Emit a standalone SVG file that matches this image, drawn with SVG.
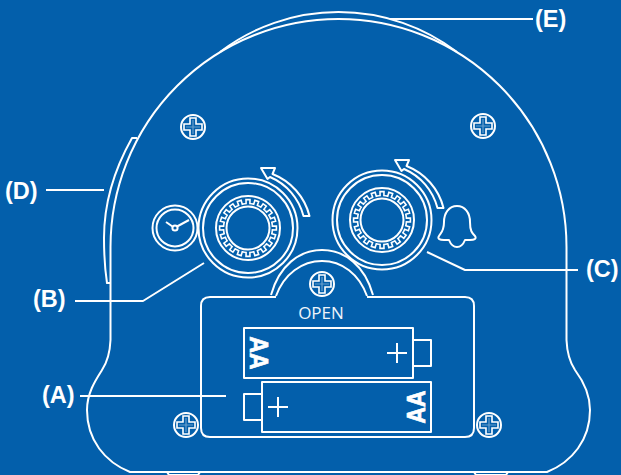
<svg xmlns="http://www.w3.org/2000/svg" xmlns:xlink="http://www.w3.org/1999/xlink" width="621" height="475" viewBox="0 0 621 475">
<style>
.l{fill:none;stroke:#fff;stroke-width:2;stroke-linejoin:round}
.t{fill:none;stroke:#fff;stroke-width:1.6;stroke-linejoin:miter}
.lab{font-family:"Liberation Sans",Arial,sans-serif;font-weight:700;font-size:23.5px;fill:#fff}
.aa{font-family:"Liberation Sans",Arial,sans-serif;font-weight:700;font-size:26px;fill:#fff;stroke:#fff;stroke-width:.7;text-anchor:middle}
</style>
<defs>
<path id="tooth" class="t" d="M-3.9,-24.2 L-1.9,-24.4 L-2,-28.4 L2,-28.4 L1.9,-24.4 L3.9,-24.2"/>
<g id="teeth">
<use xlink:href="#tooth"/><use xlink:href="#tooth" transform="rotate(18)"/><use xlink:href="#tooth" transform="rotate(36)"/><use xlink:href="#tooth" transform="rotate(54)"/><use xlink:href="#tooth" transform="rotate(72)"/><use xlink:href="#tooth" transform="rotate(90)"/><use xlink:href="#tooth" transform="rotate(108)"/><use xlink:href="#tooth" transform="rotate(126)"/><use xlink:href="#tooth" transform="rotate(144)"/><use xlink:href="#tooth" transform="rotate(162)"/><use xlink:href="#tooth" transform="rotate(180)"/><use xlink:href="#tooth" transform="rotate(198)"/><use xlink:href="#tooth" transform="rotate(216)"/><use xlink:href="#tooth" transform="rotate(234)"/><use xlink:href="#tooth" transform="rotate(252)"/><use xlink:href="#tooth" transform="rotate(270)"/><use xlink:href="#tooth" transform="rotate(288)"/><use xlink:href="#tooth" transform="rotate(306)"/><use xlink:href="#tooth" transform="rotate(324)"/><use xlink:href="#tooth" transform="rotate(342)"/>
</g>
<g id="knob">
<circle class="l" r="49.5"/><circle class="l" r="45"/><circle class="l" r="32"/><circle class="l" r="21.5"/><use xlink:href="#teeth"/>
</g>
<g id="screw">
<circle class="l" r="12"/>
<path class="t" d="M-3,-9 H3 V-3 H9 V3 H3 V9 H-3 V3 H-9 V-3 H-3 Z"/>
<path d="M0,-7 V7 M-7,0 H7" stroke="#fff" stroke-width="1.2" opacity=".4" fill="none"/>
</g>
<path id="turn" class="l" d="M261,168 H275 L272.5,174 A61,61 0 0 1 309.5,216 L303.5,216 A58,58 0 0 0 270,177 L267.5,179 Z"/>
</defs>
<rect width="621" height="475" fill="#035fab"/>
<g id="body">
<path class="l" d="M130,472 C105,462 87,440 87,410 C87,392 97,378 102,370 C108,361 110,352 110.5,340 V247 A228,228 0 0 1 566.5,247 V340 C567,352 569,361 575,370 C581,378 590,392 590,410 C590,440 572,462 547,472 Z"/>
<path class="l" d="M220,52 A195.5,195.5 0 0 1 457,52"/>
<path class="l" d="M137,138 H132 C114,170 104,205 104,238 C104,255 105,270 107,283 H110"/>
<path class="l" d="M167,472 L169,475 H198 L200,472 M474,472 L476,475 H506 L508,472"/>
</g>
<g id="connectors">
<path class="l" d="M80,396 H226"/>
<path class="l" d="M75,301 H143 L204,263"/>
<path class="l" d="M427,252 L465,270 H578"/>
<path class="l" d="M46,190 H104"/>
<path class="l" d="M390,19 H533"/>
</g>
<g id="knob-b"><use xlink:href="#knob" transform="translate(248,228)"/><use xlink:href="#turn"/></g>
<g id="knob-c"><use xlink:href="#knob" transform="translate(382,220)"/><use xlink:href="#turn" transform="translate(134,-8)"/></g>
<g id="clock">
<circle class="l" cx="175" cy="228" r="22.5"/><circle class="l" cx="175" cy="228" r="18.5"/>
<circle class="l" cx="175" cy="228" r="2.6"/>
<path class="l" stroke-width="2.4" d="M172.8,226.8 L166,222 M177,226.5 L189,220"/>
</g>
<g id="bell">
<path class="l" d="M457,206 C449,206 444,213 444,222 C444,231 441,233 439,236 C437,239 440,240 444,240 H449 C451,245 454,247 457,247 C460,247 463,245 465,240 H470 C474,240 477,239 475,236 C472,233 470,231 470,222 C470,213 465,206 457,206 Z"/>
</g>
<g id="screw-1"><use xlink:href="#screw" transform="translate(193,127)"/></g>
<g id="screw-2"><use xlink:href="#screw" transform="translate(483,126)"/></g>
<g id="screw-3"><use xlink:href="#screw" transform="translate(322,284)"/></g>
<g id="screw-4"><use xlink:href="#screw" transform="translate(186,425)"/></g>
<g id="screw-5"><use xlink:href="#screw" transform="translate(489,425)"/></g>
<g id="door">
<path class="l" d="M276,297 H210 Q201,297 201,306 V428 Q201,437 210,437 H465 Q474,437 474,428 V306 Q474,297 465,297 H367"/>
<path class="l" d="M276,296 C284,274 302,261 322,261 C342,261 359,274 367,296"/>
<path class="l" d="M271,295 C279,266 299,250 322,250 C345,250 365,266 373,295"/>
<text x="321" y="319" text-anchor="middle" font-family="'Open Sans','Noto Sans',sans-serif" font-size="17" fill="#eef4fa">OPEN</text>
</g>
<g id="battery-top">
<rect class="l" x="244" y="328" width="169" height="50"/>
<rect class="l" x="413" y="340" width="18" height="26"/>
<path class="l" d="M387,353 H407 M397,343 V363"/>
<text class="aa" transform="translate(250,353) rotate(90)" textLength="33" lengthAdjust="spacingAndGlyphs">AA</text>
</g>
<g id="battery-bottom">
<rect class="l" x="262" y="382" width="169" height="50"/>
<rect class="l" x="244" y="394" width="18" height="26"/>
<path class="l" d="M268,407 H288 M278,397 V417"/>
<text class="aa" transform="translate(425,407) rotate(-90)" textLength="33" lengthAdjust="spacingAndGlyphs">AA</text>
</g>
<g id="labels">
<text class="lab" x="42" y="403">(A)</text>
<text class="lab" x="33" y="307">(B)</text>
<text class="lab" x="586" y="277">(C)</text>
<text class="lab" x="5" y="199">(D)</text>
<text class="lab" x="535" y="27">(E)</text>
</g>
</svg>
